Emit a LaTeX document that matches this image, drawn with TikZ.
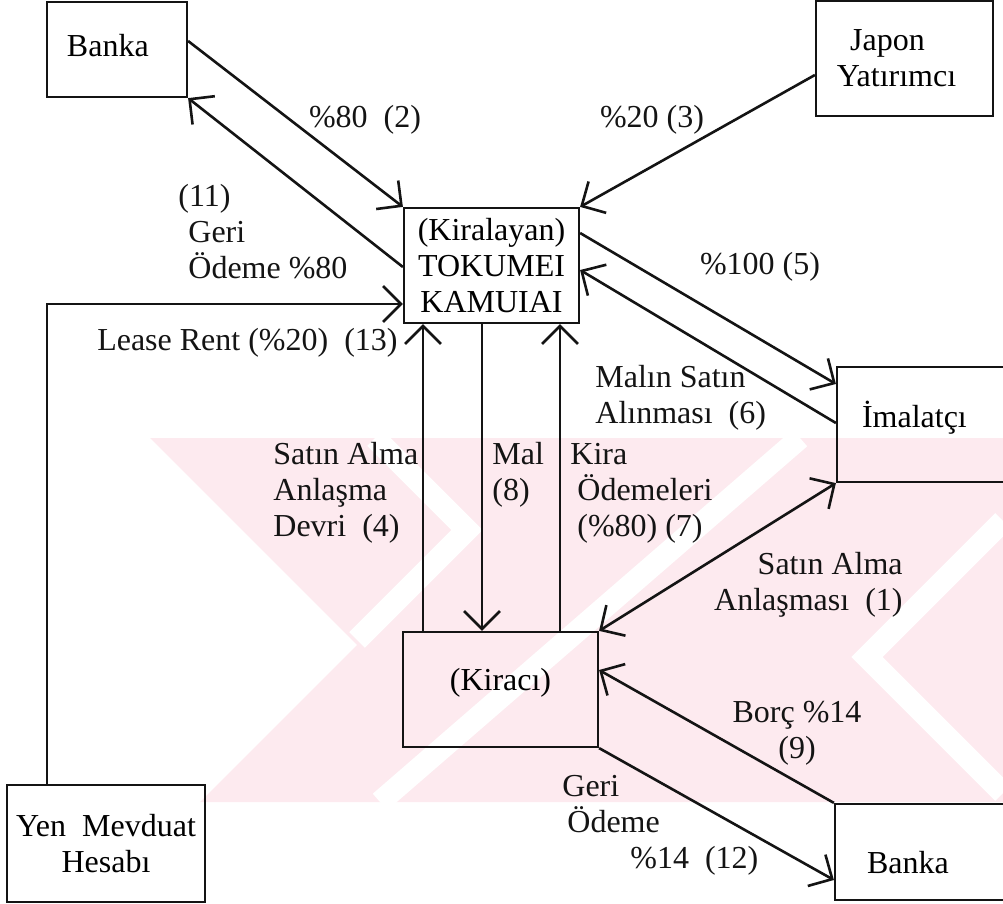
\documentclass[tikz,border=0pt]{standalone}
\usepackage{fontspec}
\setmainfont{Liberation Serif}
\usepackage{tikz}
\usetikzlibrary{arrows.meta,positioning,calc}
\definecolor{ink}{HTML}{141414}
\definecolor{wmark}{HTML}{FDEAEF}

\begin{document}
\begin{tikzpicture}[x=0.5pt,y=-0.5pt,
  font=\fontsize{16pt}{18pt}\selectfont,
  >={Straight Barb[length=9pt,width=18pt]},
  box/.style={draw=ink,line width=1.1pt,inner ysep=0pt,inner xsep=1pt,align=center},
  lbl/.style={inner sep=0pt,text=ink},
  flow/.style={draw=ink,line width=1.3pt,->}]
\useasboundingbox (0,0) rectangle (1003,904);
\clip (0,0) rectangle (1003,904);
\begin{scope}
  \clip (150,438) rectangle (1003,802);
  \fill[wmark] (150,438) -- (1003,438) -- (1003,802) -- (200,802) -- (357,645) -- cycle;
  \draw[white,line width=11pt] (375,438) -- (467,530) -- (357,640);
  \draw[white,line width=11pt] (800,438) -- (380,802);
  \draw[white,line width=11pt] (1003,521) -- (867,657) -- (1003,793);
\end{scope}

\node[box,minimum width=70pt,minimum height=47.5pt,text width=50pt,inner xsep=10pt,align=left,
      text depth=4.5pt] (bankaA) at (117,49.5) {Banka};
\node[box,minimum width=88.5pt,minimum height=57.5pt] (japon) at (904.5,58.5) {Japon\hspace*{17pt}\\Yatırımcı\hspace*{8pt}};
\node[box,minimum width=87.5pt,minimum height=57.5pt] (kiralayan) at (491.5,265.5) {(Kiralayan)\\TOKUMEI\\KAMUIAI};
\node[box,minimum width=88pt,minimum height=57.5pt,text width=63pt,inner xsep=12.5pt,align=left,
      text height=13pt,text depth=10pt] (imalatci) at (925,424.5) {İmalatçı};
\node[box,minimum width=97.5pt,minimum height=57.5pt,text height=11pt,text depth=10pt] (kiraci) at (500.5,689.5) {(Kiracı)};
\node[box,minimum width=99pt,minimum height=58.5pt] (yen) at (106,843.5) {Yen~~Mevduat\\Hesabı};
\node[box,minimum width=89pt,minimum height=48pt,text width=57pt,inner xsep=16pt,align=left,
      text height=21.6pt] (bankaB) at (924,852) {Banka};

\draw[flow] (bankaA.east |- 0,41) -- (kiralayan.north west);
\draw[flow] (kiralayan.west |- 0,267) -- (bankaA.south east);
\draw[flow] (japon.west |- 0,75) -- (kiralayan.north east);
\draw[flow] (kiralayan.east |- 0,233) -- (imalatci.west |- 0,384);
\draw[flow] (imalatci.west |- 0,423) -- (kiralayan.east |- 0,270);
\draw[flow] (kiralayan.south -| 482,0) -- (kiraci.north -| 482,0);
\draw[flow] (kiraci.north -| 423,0) -- (kiralayan.south -| 423,0);
\draw[flow] (kiraci.north -| 560,0) -- (kiralayan.south -| 560,0);
\draw[flow] (yen.north -| 47,0) |- (kiralayan.west |- 0,304);
\draw[flow,<->] (kiraci.north east) -- (imalatci.south west);
\draw[flow] (bankaB.north west) -- (kiraci.east |- 0,670);
\draw[flow] (kiraci.south east) -- (bankaB.west |- 0,880);

\node[lbl] (l2) at (365,120) {\%80~~(2)};
\node[lbl,anchor=west,align=left] (l11) at (178,232) {(11)\\\hspace*{5pt}Geri\\\hspace*{5pt}Ödeme \%80};
\node[lbl,anchor=east] (l13) at (398,343) {Lease Rent (\%20)~~(13)};
\node[lbl] (l3) at (652,120) {\%20 (3)};
\node[lbl] (l5) at (760,267) {\%100 (5)};
\node[lbl,anchor=west,align=left] (l6) at (595,398) {Malın Satın\\Alınması~~(6)};
\node[lbl,anchor=west,align=left] (l4) at (273,493) {Satın Alma\\Anlaşma\\Devri~~(4)};
\node[lbl,anchor=west,align=left] (l8) at (492,475) {Mal\\(8)};
\node[lbl,anchor=west,align=left] (l7) at (570,493) {Kira\\\hspace*{3.5pt}Ödemeleri\\\hspace*{3.5pt}(\%80) (7)};
\node[lbl,anchor=east,align=right] (l1) at (903,585) {Satın Alma\\Anlaşması~~(1)};
\node[lbl,align=center] (l9) at (797,733) {Borç \%14\\(9)};
\node[lbl,anchor=west,align=left] (l12) at (562,825) {Geri\\\hspace*{2.5pt}Ödeme\\\hspace*{34pt}\%14~~(12)};
\end{tikzpicture}
\end{document}
